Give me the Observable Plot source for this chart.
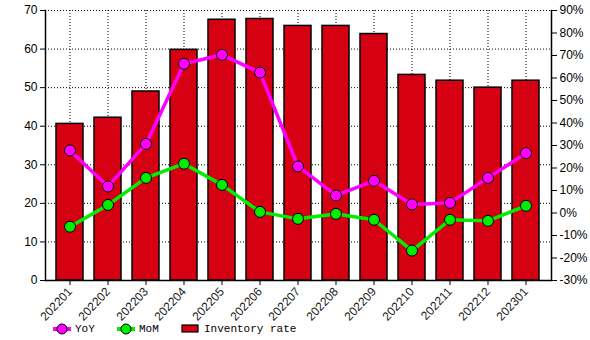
<!DOCTYPE html>
<html>
<head>
<meta charset="utf-8">
<script src="https://cdn.jsdelivr.net/npm/d3@7"></script>
<script src="https://cdn.jsdelivr.net/npm/@observablehq/plot@0.6"></script>
<style>
  body { margin: 0; background: #fff; font-family: "Liberation Sans", Arial, sans-serif; }
  #wrap { position: relative; width: 590px; height: 340px; }
  #chart svg text { font-size: 12px !important; }
  #legend { position: absolute; left: 0; top: 321px; width: 590px; height: 19px; font-family: "Liberation Mono", "Courier New", monospace; font-size: 11px; color: #000; }
  #legend .item { position: absolute; top: 1px; height: 16px; }
</style>
</head>
<body>
<div id="wrap">
  <div id="chart"></div>
  <div id="legend"></div>
</div>
<script>
const months = ["202201","202202","202203","202204","202205","202206","202207","202208","202209","202210","202211","202212","202301"];
const inventoryRate = [40.6, 42.2, 49.0, 59.8, 67.6, 67.8, 66.0, 66.0, 63.9, 53.3, 51.8, 50.0, 51.8];
const yoy = [27.8, 11.8, 30.7, 66.3, 70.3, 62.4, 20.7, 7.8, 14.3, 3.8, 4.5, 15.6, 26.6];
const mom = [-6.1, 3.6, 15.6, 21.9, 12.5, 0.5, -2.6, -0.4, -3.0, -16.7, -3.0, -3.5, 3.2];
const leftTicks = [0, 10, 20, 30, 40, 50, 60, 70];
const rightTicks = [-30, -20, -10, 0, 10, 20, 30, 40, 50, 60, 70, 80, 90];

// map percent (right axis, -30..90) onto left scale (0..70)
const toLeft = p => (p + 30) / 120 * 70;
const fromLeft = v => Math.round(v / 70 * 120 - 30);

const bars = months.map((m, i) => ({month: m, value: inventoryRate[i]}));
const yoyData = months.map((m, i) => ({month: m, value: toLeft(yoy[i])}));
const momData = months.map((m, i) => ({month: m, value: toLeft(mom[i])}));

const RED = "#d50012", MAG = "#ff00ff", GRN = "#00ee00";

const chart = Plot.plot({
  width: 590,
  height: 340,
  marginTop: 10,
  marginBottom: 60,
  marginLeft: 45,
  marginRight: 39,
  style: {fontFamily: "Liberation Sans, Arial, sans-serif", fontSize: "12px", color: "#000", background: "transparent"},
  x: {domain: months, paddingInner: 0.28, paddingOuter: 0.14, label: null},
  y: {domain: [0, 70], label: null},
  marks: [
    Plot.ruleY(leftTicks.slice(1), {stroke: "#000", strokeDasharray: "1,2", strokeWidth: 1}),
    Plot.ruleX(months, {stroke: "#000", strokeDasharray: "1,2", strokeWidth: 1}),
    Plot.barY(bars, {x: "month", y: "value", fill: RED, stroke: "#000", strokeWidth: 1.5}),
    Plot.line(yoyData, {x: "month", y: "value", stroke: MAG, strokeWidth: 3.5}),
    Plot.dot(yoyData, {x: "month", y: "value", r: 5.5, fill: MAG, stroke: "#000", strokeWidth: 1}),
    Plot.line(momData, {x: "month", y: "value", stroke: GRN, strokeWidth: 3.5}),
    Plot.dot(momData, {x: "month", y: "value", r: 5.5, fill: GRN, stroke: "#000", strokeWidth: 1}),
    Plot.axisY({anchor: "left", ticks: leftTicks, tickSize: 5, tickPadding: 3, label: null}),
    Plot.axisY({anchor: "right", ticks: rightTicks.map(toLeft), tickFormat: d => fromLeft(d) + "%", tickSize: 5, tickPadding: 3, label: null}),
    Plot.axisX({tickRotate: -47, tickSize: 5, tickPadding: 4, label: null, fill: "#222"}),
    Plot.ruleY([0], {stroke: "#000", strokeWidth: 1.5}),
    Plot.frame({anchor: "left", stroke: "#000", strokeWidth: 1.5}),
    Plot.frame({anchor: "right", stroke: "#000", strokeWidth: 1.5})
  ]
});
document.getElementById("chart").appendChild(chart);

// legend
const legendItems = [
  {label: "YoY", type: "line", color: MAG, x: 52},
  {label: "MoM", type: "line", color: GRN, x: 116},
  {label: "Inventory rate", type: "rect", color: RED, x: 181}
];
const lg = d3.select("#legend");
legendItems.forEach(it => {
  const item = lg.append("div").attr("class", "item").style("left", it.x + "px");
  const svg = item.append("svg").attr("width", 20).attr("height", 14).style("vertical-align", "middle");
  if (it.type === "line") {
    svg.append("line").attr("x1", 1).attr("x2", 19).attr("y1", 7).attr("y2", 7).attr("stroke", it.color).attr("stroke-width", 4);
    svg.append("circle").attr("cx", 10).attr("cy", 7).attr("r", 5).attr("fill", it.color).attr("stroke", "#000");
  } else {
    svg.append("rect").attr("x", 1).attr("y", 3).attr("width", 16).attr("height", 7).attr("fill", it.color).attr("stroke", "#000").attr("stroke-width", 1.2);
  }
  item.append("span").text(it.label).style("margin-left", "3px").style("vertical-align", "middle");
});
</script>
</body>
</html>
